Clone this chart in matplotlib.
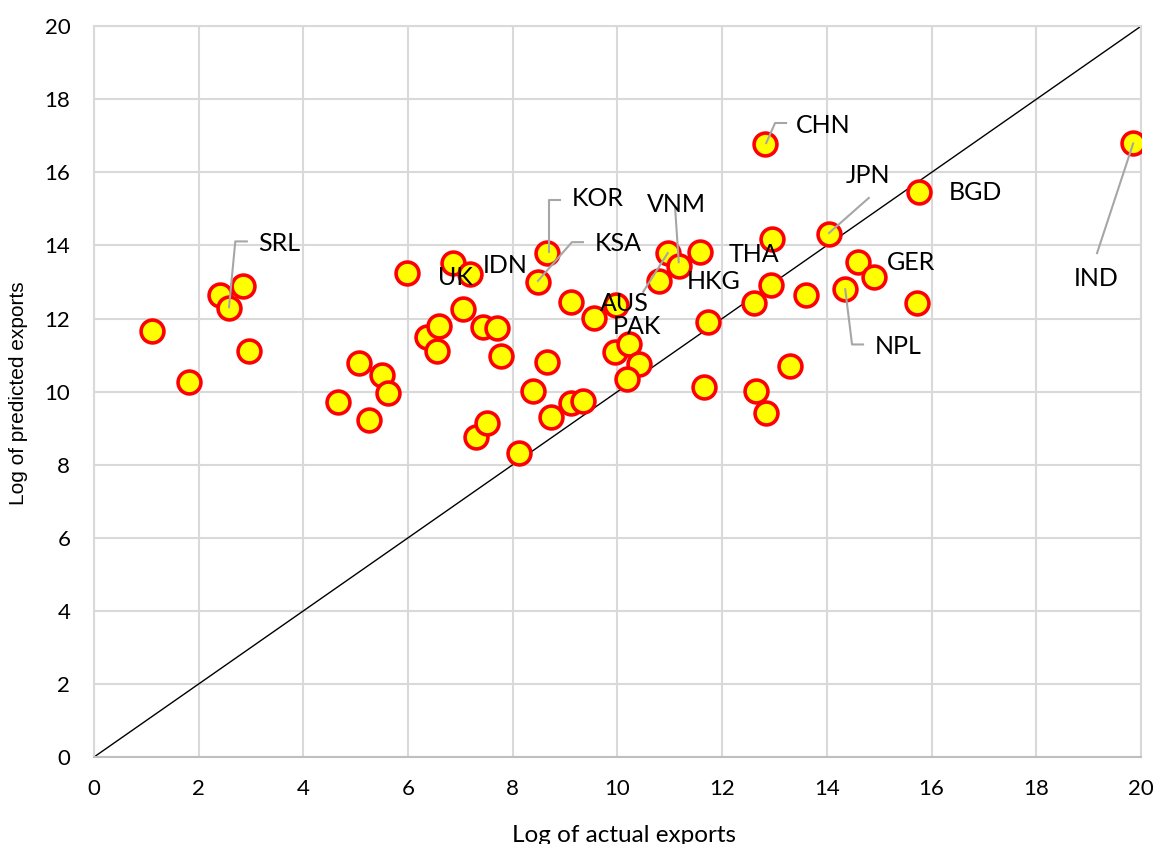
import matplotlib
matplotlib.use('Agg')
import matplotlib.pyplot as plt

plt.rcParams['font.family'] = ['Lato', 'DejaVu Sans']

# log of actual exports (x) vs log of predicted exports (y)
actual = [1.11, 1.82, 2.41, 2.58, 2.85, 2.96, 4.66, 5.06, 5.25, 5.50,
          5.62, 5.98, 6.36, 6.55, 6.59, 6.86, 7.18, 7.05, 7.43, 7.70,
          7.77, 8.65, 8.48, 8.65, 8.39, 9.11, 9.55, 8.73, 9.11, 9.34,
          7.30, 7.51, 8.12, 9.97, 10.96, 11.17, 10.79, 11.58, 9.95, 10.22,
          10.41, 10.18, 11.73, 11.65, 12.61, 12.64, 12.82, 19.85, 15.76, 14.04,
          12.95, 14.59, 14.90, 12.93, 13.60, 14.35, 15.72, 13.30, 12.84]
predicted = [11.66, 10.26, 12.64, 12.28, 12.89, 11.11, 9.72, 10.78, 9.22, 10.45,
             9.96, 13.24, 11.50, 11.11, 11.79, 13.52, 13.21, 12.26, 11.76, 11.74,
             10.97, 13.79, 13.00, 10.81, 10.01, 12.45, 12.01, 9.30, 9.69, 9.74,
             8.76, 9.14, 8.32, 12.37, 13.79, 13.43, 13.02, 13.82, 11.08, 11.30,
             10.75, 10.34, 11.90, 10.12, 12.42, 10.01, 16.77, 16.79, 15.46, 14.31,
             14.17, 13.54, 13.13, 12.91, 12.64, 12.80, 12.42, 10.70, 9.41]

# labels: name, text position, leader line path (None = no leader)
label_names = ['CHN', 'SRL', 'KOR', 'KSA', 'VNM', 'AUS', 'PAK', 'HKG', 'THA',
               'IDN', 'UK', 'JPN', 'BGD', 'GER', 'NPL', 'IND']
label_x = [13.93, 3.53, 9.63, 10.01, 11.12, 10.14, 10.37, 11.84, 12.61,
           7.85, 6.90, 14.79, 16.83, 15.61, 15.36, 19.14]
label_y = [17.29, 14.06, 15.29, 14.06, 15.13, 12.42, 11.79, 13.00, 13.76,
           13.46, 13.13, 15.90, 15.46, 13.52, 11.24, 13.10]
leaders = [
    [(12.84, 16.80), (13.01, 17.35), (13.22, 17.35)],
    [(2.58, 12.31), (2.70, 14.11), (2.92, 14.11)],
    [(8.69, 13.83), (8.69, 15.24), (8.90, 15.24)],
    [(8.48, 13.03), (9.13, 14.09), (9.34, 14.09)],
    [(11.10, 15.04), (11.17, 13.54)],
    [(10.49, 12.73), (10.96, 13.79)],
    None, None, None, None, None,
    [(14.04, 14.34), (14.80, 15.30)],
    None, None,
    [(14.35, 12.80), (14.48, 11.29), (14.69, 11.29)],
    [(19.85, 16.79), (19.16, 13.79)],
]

fig = plt.figure(figsize=(11.57, 8.44), dpi=100)
ax = fig.add_axes([0.0812, 0.103, 0.905, 0.866])

ax.plot([0, 20], [0, 20], color='black', linewidth=1.0, zorder=2)

for path in leaders:
    if path is None:
        continue
    ax.plot([p[0] for p in path], [p[1] for p in path], color='#a6a6a6',
            linewidth=1.5, zorder=4)

ax.scatter(actual, predicted, s=270, facecolor='#ffff00', edgecolor='#ff0000',
           linewidth=2.6, zorder=3)

for name, tx, ty in zip(label_names, label_x, label_y):
    ax.text(tx, ty, name, fontsize=18, ha='center', va='center', zorder=5)

ax.set_xlim(0, 20)
ax.set_ylim(0, 20)
ax.set_xticks(range(0, 21, 2))
ax.set_yticks(range(0, 21, 2))
ax.grid(True, color='#d9d9d9', linewidth=1.5)
ax.set_axisbelow(True)
for side in ['top', 'right', 'left']:
    ax.spines[side].set_color('#d9d9d9')
    ax.spines[side].set_linewidth(1.5)
ax.spines['bottom'].set_color('#bfbfbf')
ax.spines['bottom'].set_linewidth(1.5)
ax.tick_params(length=0, labelsize=16)
ax.tick_params(axis='x', pad=16)
ax.tick_params(axis='y', pad=17)

fig.text(0.5395, 2.5 / 844, 'Log of actual exports', fontsize=17.5,
         ha='center', va='baseline')
fig.text(19 / 1157, 0.534, 'Log of predicted exports', fontsize=15,
         family=['Liberation Sans', 'DejaVu Sans'], rotation=90,
         ha='center', va='center')

fig.savefig('out.png', dpi=100)
